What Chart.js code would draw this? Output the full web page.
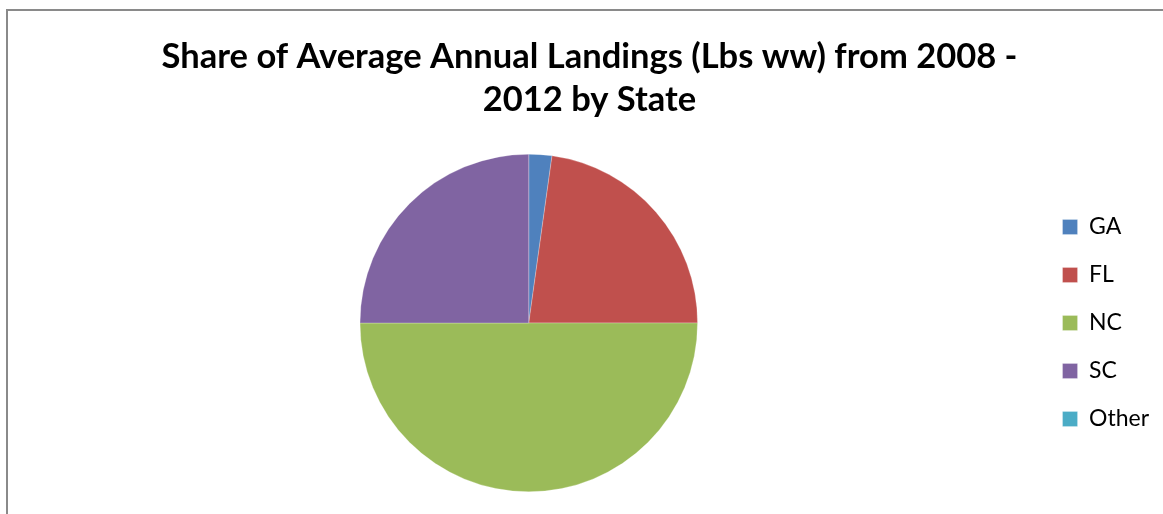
<!DOCTYPE html>
<html>
<head>
<meta charset="utf-8">
<script src="https://cdn.jsdelivr.net/npm/chart.js@4/dist/chart.umd.min.js"></script>
<style>
  html, body { margin: 0; padding: 0; background: #fff; }
  #wrap { position: relative; width: 1163px; height: 514px; }
  #frame { position: absolute; left: 6px; top: 9px; right: 0; bottom: 0;
           border-left: 2px solid #8a8a8a; border-top: 2px solid #8a8a8a; }
  canvas { position: absolute; left: 0; top: 0; }
</style>
</head>
<body>
<div id="wrap">
  <div id="frame"></div>
  <canvas id="pieChart" width="1163" height="514"></canvas>
</div>
<script>
  const titleLines = ['Share of Average Annual Landings (Lbs ww) from 2008 -', '2012 by State'];
  const states = ['GA', 'FL', 'NC', 'SC', 'Other'];
  const shares = [2.2, 22.8, 50.0, 25.0, 0.0];
  const colors = ['#4F81BD', '#C0504D', '#9BBB59', '#8064A2', '#4BACC6'];

  const ctx = document.getElementById('pieChart').getContext('2d');
  new Chart(ctx, {
    type: 'pie',
    data: {
      labels: states,
      datasets: [{
        data: shares,
        backgroundColor: colors,
        borderColor: 'rgba(255,255,255,0.5)',
        borderWidth: 0.5
      }]
    },
    options: {
      responsive: false,
      animation: false,
      layout: {
        padding: { left: 20, right: 4, top: 14, bottom: 22 }
      },
      plugins: {
        title: {
          display: true,
          text: titleLines,
          color: '#000',
          font: { family: 'Lato', size: 34.5, weight: 'bold', lineHeight: 1.246 },
          padding: { top: 21.5, bottom: 32.5 }
        },
        legend: {
          position: 'right',
          fullSize: false,
          labels: {
            color: '#000',
            boxWidth: 15,
            boxHeight: 15,
            padding: 25,
            font: { family: 'Lato', size: 23 }
          }
        },
        tooltip: { enabled: false }
      }
    }
  });
</script>
</body>
</html>
